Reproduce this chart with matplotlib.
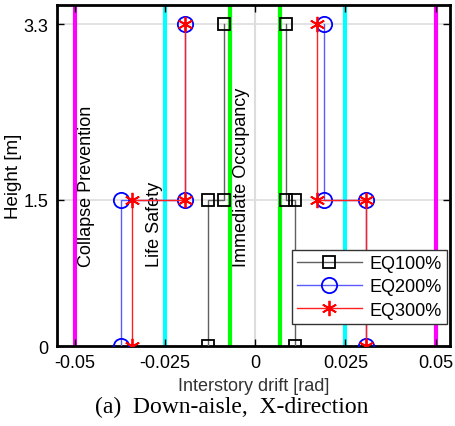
import matplotlib.pyplot as plt

# story heights and drifts (step profile: bottom story, top story)
height = [0, 1.5, 1.5, 3.3]

eq100_neg = [-0.013, -0.013, -0.0087, -0.0087]
eq100_pos = [0.011, 0.011, 0.0085, 0.0085]
eq200_neg = [-0.0371, -0.0371, -0.0195, -0.0195]
eq200_pos = [0.0308, 0.0308, 0.0191, 0.0191]
eq300_neg = [-0.0342, -0.0342, -0.0195, -0.0195]
eq300_pos = [0.0308, 0.0308, 0.0171, 0.0171]

limits = [0.05, 0.025, 0.007]
limit_colors = ['#ff00ff', '#00ffff', '#00ff00']
limit_names = ['Collapse Prevention', 'Life Safety', 'Immediate Occupancy']
label_x = [-0.0467, -0.0278, -0.0037]

xticks = [-0.05, -0.025, 0, 0.025, 0.05]
xticklabels = ['-0.05', '-0.025', '0', '0.025', '0.05']
yticks = [0, 1.5, 3.3]
yticklabels = ['0', '1.5', '3.3']

plt.rcParams['font.family'] = ['Liberation Sans', 'DejaVu Sans']
fig = plt.figure(figsize=(4.55, 4.27), dpi=100)
ax = fig.add_axes([0.125, 0.187, 0.864, 0.799])

ax.axvline(0, color='#dddddd', lw=1.5, zorder=0)
for yt in yticks[1:]:
    ax.axhline(yt, color='#dddddd', lw=1.2, zorder=0)

for lim, c in zip(limits, limit_colors):
    ax.axvline(-lim, color=c, lw=3, zorder=1)
    ax.axvline(lim, color=c, lw=3, zorder=1)

for name, xl in zip(limit_names, label_x):
    ax.text(xl, 0.82, name, rotation=90, ha='center', va='bottom', fontsize=13)

star = (6, 2, 0)
series = [
    (eq100_neg, eq100_pos, 's', 'k', '#606060', 9, 'EQ100%'),
    (eq200_neg, eq200_pos, 'o', 'b', '#5a5aff', 11, 'EQ200%'),
    (eq300_neg, eq300_pos, star, 'r', '#ff2020', 11, 'EQ300%'),
]
for neg, pos, m, ec, lc, ms, lab in series:
    ax.plot(neg, height, color=lc, lw=1, marker=m, ms=ms, mfc='none', mec=ec, mew=1.3, zorder=3, label=lab)
    ax.plot(pos, height, color=lc, lw=1, marker=m, ms=ms, mfc='none', mec=ec, mew=1.3, zorder=3)

ax.set_xlim(-0.055, 0.054)
ax.set_ylim(0, 3.5)
ax.set_xticks(xticks)
ax.set_xticklabels(xticklabels)
ax.set_yticks(yticks)
ax.set_yticklabels(yticklabels)
ax.tick_params(direction='in', top=True, right=True, labelsize=13, length=5, width=1, pad=6)
for sp in ax.spines.values():
    sp.set_linewidth(2)

ax.set_ylabel('Height [m]', fontsize=13.5, labelpad=1)
ax.set_xlabel('Interstory drift [rad]', fontsize=13, color='#333333', labelpad=4)

leg = ax.legend(loc='lower right', bbox_to_anchor=(0.992, 0.065), borderaxespad=0, fontsize=13,
                fancybox=False, framealpha=1, edgecolor='#333333', handlelength=3.6, borderpad=0.3,
                labelspacing=0.35, handletextpad=0.4)
leg.get_frame().set_linewidth(1)

fig.text(0.51, 0.045, '(a)  Down-aisle,  X-direction', ha='center', va='center',
         fontsize=17, family='Liberation Serif')

fig.savefig('out.png', dpi=100)
